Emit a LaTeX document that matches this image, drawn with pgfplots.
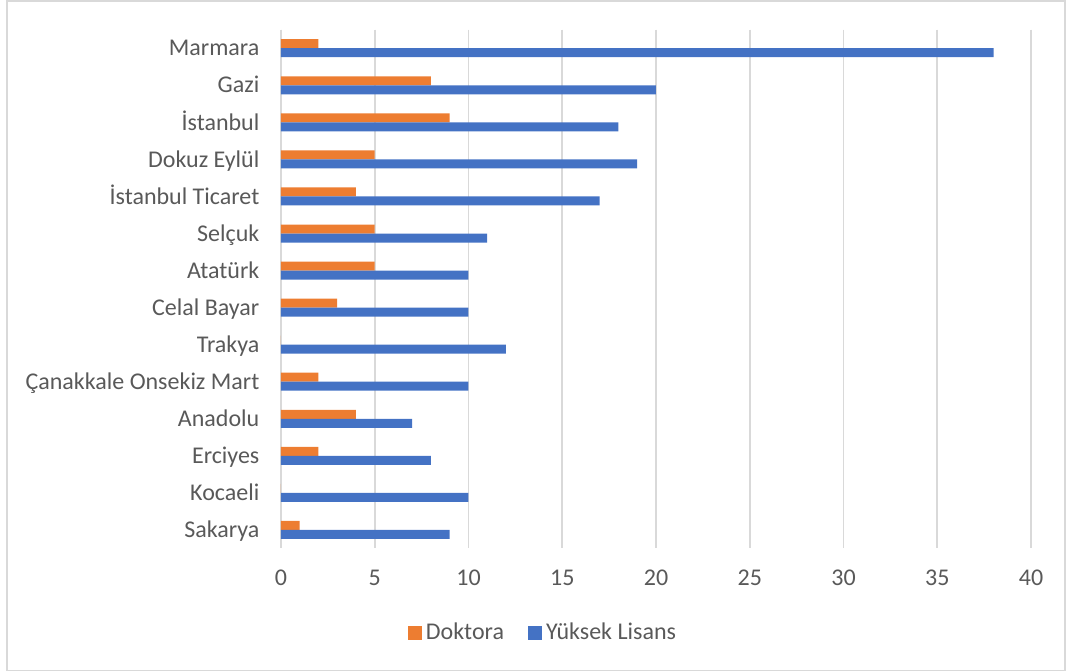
\documentclass[border=0pt]{standalone}
\usepackage{fontspec}
\setmainfont{Carlito}
\usepackage{pgfplots}
\pgfplotsset{compat=1.18}
\definecolor{dok}{HTML}{ED7D31}
\definecolor{yl}{HTML}{4472C4}
\definecolor{gridc}{HTML}{D9D9D9}
\definecolor{txt}{HTML}{595959}
\begin{document}
\begin{tikzpicture}
\begin{axis}[
  scale only axis,
  width=375pt, height=259.4pt,
  xbar=0pt, bar width=4.5pt,
  xmin=0, xmax=40, xtick={0,5,...,40},
  ymin=-0.5, ymax=13.5, y dir=reverse,
  ytick={0,...,13},
  yticklabels={Marmara\ ,Gazi,İstanbul,Dokuz Eylül,İstanbul Ticaret,Selçuk,Atatürk,Celal Bayar,Trakya\ ,Çanakkale Onsekiz Mart,Anadolu\ ,Erciyes,Kocaeli,Sakarya},
  xmajorgrids, grid style={gridc, line width=0.9pt},
  separate axis lines,
  axis x line*=bottom, axis y line*=left,
  x axis line style={draw=none},
  y axis line style={gridc, line width=1pt},
  major tick length=0pt,
  tick label style={font=\fontsize{12}{14}\selectfont, text=txt},
  /pgf/number format/assume math mode=true,
  xticklabel style={yshift=-7.2pt},
  yticklabel style={xshift=-7.3pt, text height=10pt, text depth=2.3pt},
  legend style={at={(0.3507,-0.162)}, anchor=center, draw=none, fill=none,
    legend columns=2, font=\fontsize{12}{14}\selectfont, text=txt,
    /tikz/every even column/.append style={column sep=10pt}},
  legend image code/.code={\fill[#1] (-2pt,-3.5pt) rectangle (5pt,3.5pt);},
]
\addplot[fill=dok, draw=none, bar shift=2.25pt] coordinates {
  (2,0) (8,1) (9,2) (5,3) (4,4) (5,5) (5,6) (3,7) (0,8) (2,9) (4,10) (2,11) (0,12) (1,13)
};
\addlegendentry{Doktora}
\addplot[fill=yl, draw=none, bar shift=-2.25pt] coordinates {
  (38,0) (20,1) (18,2) (19,3) (17,4) (11,5) (10,6) (10,7) (12,8) (10,9) (7,10) (8,11) (10,12) (9,13)
};
\addlegendentry{Yüksek Lisans}
\end{axis}
\draw[gridc, line width=0.9pt] ([shift={(-137pt,-61pt)}]current axis.south west) rectangle ([shift={(392pt,273.75pt)}]current axis.south west);
\path[use as bounding box] ([shift={(-140.5pt,-61.75pt)}]current axis.south west) rectangle ([shift={(392.5pt,274.25pt)}]current axis.south west);
\end{tikzpicture}
\end{document}
